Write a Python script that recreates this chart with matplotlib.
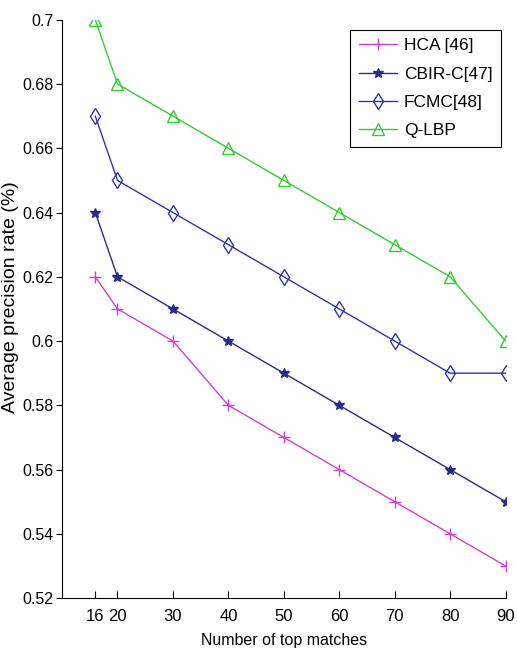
import matplotlib
matplotlib.use("Agg")
import matplotlib.pyplot as plt

plt.rcParams['font.family'] = ['Liberation Sans', 'DejaVu Sans']

top_matches = [16, 20, 30, 40, 50, 60, 70, 80, 90]
hca = [0.62, 0.61, 0.60, 0.58, 0.57, 0.56, 0.55, 0.54, 0.53]
cbir = [0.64, 0.62, 0.61, 0.60, 0.59, 0.58, 0.57, 0.56, 0.55]
fcmc = [0.67, 0.65, 0.64, 0.63, 0.62, 0.61, 0.60, 0.59, 0.59]
qlbp = [0.70, 0.68, 0.67, 0.66, 0.65, 0.64, 0.63, 0.62, 0.60]
y_ticks = [0.52, 0.54, 0.56, 0.58, 0.6, 0.62, 0.64, 0.66, 0.68, 0.7]

fig = plt.figure(figsize=(5.17, 6.58), dpi=100)
ax = fig.add_axes([0.12, 0.091, 0.858, 0.879])

ax.plot(top_matches, hca, color='#d040d0', marker='+', markersize=9, lw=1, label='HCA [46]')
ax.plot(top_matches, cbir, color='#2a2a8a', marker='*', markersize=7, lw=1, label='CBIR-C[47]')
ax.plot(top_matches, fcmc, color='#3333aa', marker='d', markersize=8, mfc='none', lw=1, label='FCMC[48]')
ax.plot(top_matches, qlbp, color='#33cc33', marker='^', markersize=8, mfc='none', lw=1, label='Q-LBP')

ax.set_xlim(10, 90)
ax.set_ylim(0.52, 0.7)
ax.set_xticks(top_matches)
ax.set_yticks(y_ticks)
ax.set_yticklabels([f"{v:g}" for v in y_ticks])
ax.tick_params(axis='x', direction='in', labelsize=12, length=5, pad=8)
ax.tick_params(axis='y', direction='out', labelsize=11.5, length=4, pad=2)
ax.spines['top'].set_visible(False)
ax.spines['right'].set_visible(False)

ax.set_xlabel("Number of top matches", fontsize=11.5, labelpad=6)
ax.set_ylabel("Average precision rate (%)", fontsize=14)
ax.yaxis.set_label_coords(-0.098, 0.52)

leg = ax.legend(loc='upper right', bbox_to_anchor=(0.99, 0.983), fontsize=12.5,
                handlelength=2.2, handletextpad=0.4, fancybox=False, edgecolor='black',
                framealpha=1, borderpad=0.5, labelspacing=0.75, borderaxespad=0)
leg.get_frame().set_linewidth(0.8)

fig.savefig("out.png", dpi=100)
